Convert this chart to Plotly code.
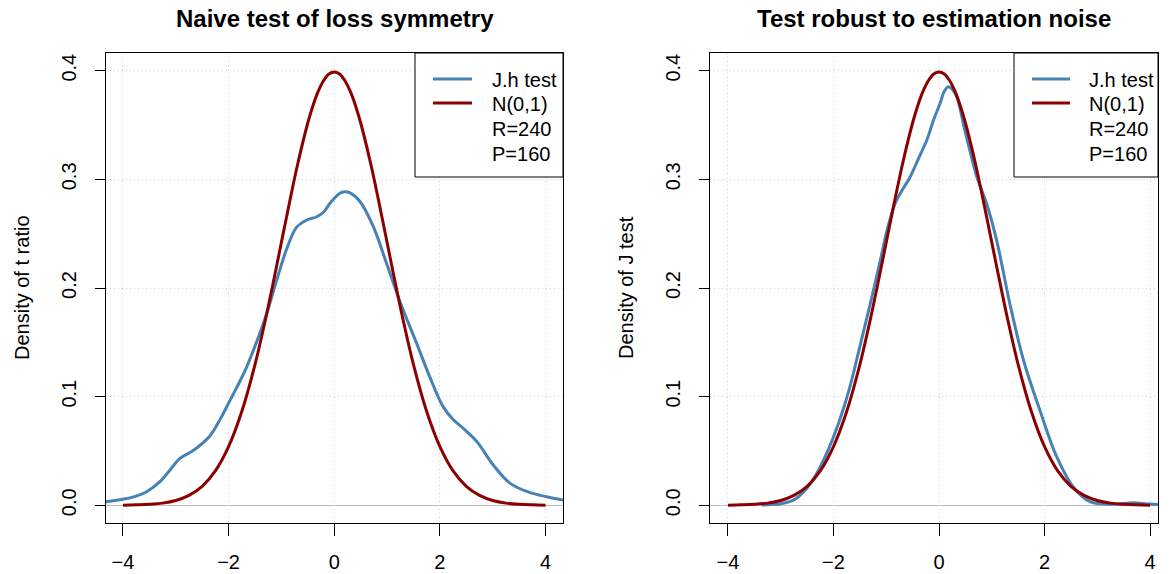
import plotly.graph_objects as go

# ---------------- data ----------------
# Left panel: density of naive t ratio (J.h test)
naive_x = [-4.32, -4.0, -3.75, -3.55, -3.3, -3.1, -2.92, -2.75, -2.61, -2.35, -2.15,
           -2.0, -1.85, -1.66, -1.41, -1.28, -1.09, -0.9, -0.71, -0.52, -0.33, -0.2, -0.08,
           0.1, 0.2, 0.3, 0.49, 0.74, 0.99, 1.245, 1.56, 1.81, 2.06, 2.25, 2.44,
           2.7, 3.01, 3.33, 3.71, 4.02, 4.33]
naive_y = [0.0033, 0.0055, 0.0085, 0.0125, 0.0217, 0.033, 0.0432, 0.048, 0.0525, 0.064, 0.080,
           0.094, 0.108, 0.127, 0.158, 0.176, 0.207, 0.236, 0.256, 0.2626, 0.2656, 0.270, 0.278,
           0.287, 0.2886, 0.2875, 0.2794, 0.2564, 0.2227, 0.1874, 0.149, 0.118, 0.0908, 0.079, 0.0709,
           0.0586, 0.0371, 0.0202, 0.0116, 0.0079, 0.0049]

# Right panel: density of robust J test
robust_x = [-3.36, -3.0, -2.75, -2.5, -2.32, -2.1, -1.9, -1.7, -1.5, -1.3, -1.1, -1.0,
            -0.9, -0.83, -0.7, -0.55, -0.4, -0.233, -0.1, 0.02, 0.1, 0.176, 0.25, 0.335,
            0.5, 0.714, 0.776, 0.9, 1.09, 1.345, 1.6, 1.91, 2.23, 2.54, 2.86, 3.18,
            3.45, 3.68, 3.9, 4.15]
robust_y = [0.0003, 0.0015, 0.005, 0.016, 0.029, 0.051, 0.076, 0.107, 0.146, 0.186, 0.228, 0.250,
            0.268, 0.278, 0.290, 0.302, 0.318, 0.336, 0.355, 0.370, 0.381, 0.3853, 0.383, 0.376,
            0.343, 0.3025, 0.294, 0.278, 0.2443, 0.185, 0.1337, 0.0877, 0.0447, 0.0171, 0.0033, 0.001,
            0.0015, 0.0024, 0.0015, 0.0008]

# Reference N(0,1) curve as drawn
norm_x = [-4.0, -3.75, -3.5, -3.25, -3.0, -2.75, -2.5, -2.25, -2.0, -1.75, -1.5, -1.3,
          -1.1, -0.9, -0.7, -0.5, -0.4, -0.3, -0.2, -0.1, 0.0, 0.1, 0.2, 0.3, 0.4, 0.5,
          0.7, 0.9, 1.1, 1.3, 1.5, 1.75, 2.0, 2.25, 2.5, 2.75, 3.0, 3.25, 3.5, 3.75, 4.0]
norm_y = [0.0001, 0.0004, 0.0009, 0.0020, 0.0044, 0.0091, 0.0175, 0.0317, 0.0540, 0.0863,
          0.1295, 0.1714, 0.2179, 0.2661, 0.3123, 0.3521, 0.3683, 0.3814, 0.3910, 0.3970,
          0.3989, 0.3970, 0.3910, 0.3814, 0.3683, 0.3521, 0.3123, 0.2661, 0.2179, 0.1714,
          0.1295, 0.0863, 0.0540, 0.0317, 0.0175, 0.0091, 0.0044, 0.0020, 0.0009, 0.0004,
          0.0001]

titles = ["Naive test of loss symmetry", "Test robust to estimation noise"]
ylabels = ["Density of t ratio", "Density of J test"]
legend_names = ["J.h test", "N(0,1)", "R=240", "P=160"]
x_ticks = [-4, -2, 0, 2, 4]
y_ticks = [0.0, 0.1, 0.2, 0.3, 0.4]
y_ticktext = ["0.0", "0.1", "0.2", "0.3", "0.4"]

BLUE = "#4682B4"
RED = "#8B0000"
FONT = "Liberation Sans, Arial, Helvetica, sans-serif"

W, H = 1171, 574
fig = go.Figure()

panels = [
    dict(x=naive_x, y=naive_y, xa="x", ya="y"),
    dict(x=robust_x, y=robust_y, xa="x2", ya="y2"),
]
for p in panels:
    fig.add_trace(go.Scatter(x=p["x"], y=p["y"], mode="lines", name=legend_names[0],
                             line=dict(color=BLUE, width=3, shape="spline"),
                             xaxis=p["xa"], yaxis=p["ya"]))
    fig.add_trace(go.Scatter(x=norm_x, y=norm_y, mode="lines", name=legend_names[1],
                             line=dict(color=RED, width=3, shape="spline"),
                             xaxis=p["xa"], yaxis=p["ya"]))

top_px, bot_px = 53, 523
ydom = [1 - bot_px / H, 1 - top_px / H]
left_px = [106, 563]
right_px = [710, 1158]
left_dom = [left_px[0] / W, left_px[1] / W]
right_dom = [right_px[0] / W, right_px[1] / W]

GRID_DASH = "1px,3px"

def xax(dom, rng, anchor):
    return dict(domain=dom, range=rng, anchor=anchor, tickmode="array", tickvals=x_ticks,
                showline=True, mirror=True, linecolor="black", linewidth=1,
                ticks="outside", ticklen=12, tickcolor="black", tickwidth=1,
                showgrid=True, gridcolor="#CFCFCF", griddash=GRID_DASH, gridwidth=1,
                zeroline=False, tickfont=dict(size=20, color="black", family=FONT),
                ticklabelstandoff=9, fixedrange=True)

def yax(anchor):
    return dict(domain=ydom, range=[-0.0163, 0.4163], anchor=anchor, tickmode="array",
                tickvals=y_ticks, ticktext=y_ticktext, tickangle=-90,
                showline=True, mirror=True, linecolor="black", linewidth=1,
                ticks="outside", ticklen=10, tickcolor="black", tickwidth=1,
                showgrid=True, gridcolor="#CFCFCF", griddash=GRID_DASH, gridwidth=1,
                zeroline=True, zerolinecolor="#BEBEBE", zerolinewidth=1,
                tickfont=dict(size=20, color="black", family=FONT),
                ticklabelstandoff=11, fixedrange=True)

def px_x(v):
    return v / W

def px_y(v):
    return 1 - v / H

annotations = []
shapes = []
for dom, t in zip([left_dom, right_dom], titles):
    annotations.append(dict(text="<b>%s</b>" % t, x=(dom[0] + dom[1]) / 2, y=px_y(19),
                            xref="paper", yref="paper", showarrow=False,
                            xanchor="center", yanchor="middle",
                            font=dict(size=24, color="black", family=FONT)))
for xc, lab in zip([22, 626], ylabels):
    annotations.append(dict(text=lab, x=px_x(xc), y=px_y(288), xref="paper", yref="paper",
                            showarrow=False, textangle=-90, xanchor="center", yanchor="middle",
                            font=dict(size=20, color="black", family=FONT)))

# legends (drawn as layout decoration, one per panel)
legend_boxes = [dict(x0=415, x1=563, line_x0=433, line_x1=472, text_x=490),
                dict(x0=1014, x1=1158, line_x0=1032, line_x1=1070, text_x=1087)]
row_y = [79, 103, 128, 153]
row_colors = [BLUE, RED, None, None]
for lb in legend_boxes:
    shapes.append(dict(type="rect", xref="paper", yref="paper",
                       x0=px_x(lb["x0"]), x1=px_x(lb["x1"]), y0=px_y(177), y1=px_y(53),
                       line=dict(color="black", width=1), fillcolor="white", layer="above"))
    for name, ry, col in zip(legend_names, row_y, row_colors):
        if col is not None:
            shapes.append(dict(type="line", xref="paper", yref="paper",
                               x0=px_x(lb["line_x0"]), x1=px_x(lb["line_x1"]),
                               y0=px_y(ry), y1=px_y(ry),
                               line=dict(color=col, width=3), layer="above"))
        annotations.append(dict(text=name, x=px_x(lb["text_x"]), y=px_y(ry + 1),
                                xref="paper", yref="paper", showarrow=False,
                                xanchor="left", yanchor="middle",
                                font=dict(size=20, color="black", family=FONT)))

fig.update_layout(
    width=W, height=H, margin=dict(l=0, r=0, t=0, b=0),
    paper_bgcolor="white", plot_bgcolor="white",
    font=dict(family=FONT, size=20, color="black"),
    xaxis=xax(left_dom, [-4.32, 4.33], "y"),
    yaxis=yax("x"),
    xaxis2=xax(right_dom, [-4.34, 4.15], "y2"),
    yaxis2=yax("x2"),
    annotations=annotations,
    shapes=shapes,
    showlegend=False,
)

fig.write_html("out.html", config={"displayModeBar": False, "staticPlot": True},
               post_script="document.body.style.margin='0';document.body.style.overflow='hidden';")
